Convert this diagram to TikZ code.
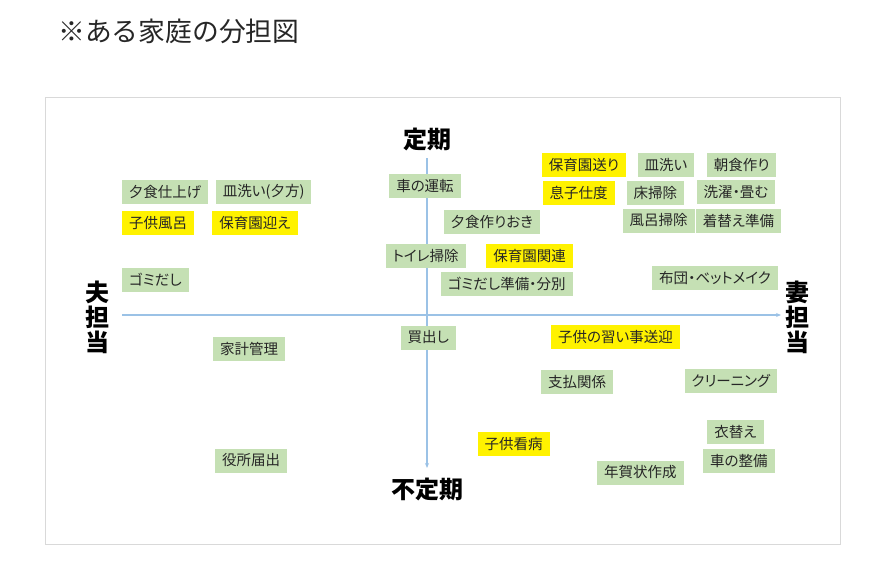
\documentclass[tikz,border=0pt]{standalone}
\usepackage{fontspec}
\usepackage{tikz}
\usetikzlibrary{arrows.meta}
\newfontfamily\jp[RawFeature=+palt]{Noto Sans CJK JP}
\newfontfamily\jptitle{Noto Sans CJK JP}
\definecolor{boxgreen}{RGB}{197,224,180}
\definecolor{axisblue}{RGB}{155,194,230}
\definecolor{framegray}{RGB}{217,217,217}
\definecolor{ink}{RGB}{38,38,38}

\begin{document}
\begin{tikzpicture}[x=1pt, y=-1pt,
	task/.style={fill=boxgreen, text=ink, font=\jp\fontsize{14.5}{16}\selectfont, inner xsep=7pt, inner ysep=0pt, minimum height=24pt},
	kid/.style={task, fill=yellow},
	axislabel/.style={font=\jptitle\bfseries\fontsize{24}{25}\selectfont, text=black, inner sep=0pt},
	axis/.style={draw=axisblue, line width=1.1pt, -{Stealth[length=5pt, width=4pt]}}]
\useasboundingbox (0,0) rectangle (888,573);
\node[font=\jptitle\fontsize{26.8}{28}\selectfont, text=ink, anchor=west, inner sep=0pt] (title) at (58,31) {※ある家庭の分担図};
\draw[framegray, line width=1pt] (45,97) rectangle (840,544);
\coordinate (top) at (427,158);
\coordinate (bottom) at (427,468);
\coordinate (left) at (122,315);
\coordinate (right) at (781,315);
\draw[axis] (top) -- (bottom);
\draw[axis] (left) -- (right);
\node[axislabel] (teiki) at (427,139) {定期};
\node[axislabel] (futeiki) at (427,489) {不定期};
\node[axislabel, align=center] (otto) at (97,317.5) {夫\\担\\当};
\node[axislabel, align=center] (tsuma) at (797,317) {妻\\担\\当};
% regular tasks above the line
\node[task] (yushoku) at (165,192) {夕食仕上げ};
\node[task] (saraYu) at (263.7,192) {皿洗い(夕方)};
\node[kid] (furo) at (158,223) {子供風呂};
\node[kid] (mukae) at (255,223) {保育園迎え};
\node[task] (gomi) at (155.5,279.7) {ゴミだし};
\node[task] (unten) at (425,186) {車の運転};
\node[task] (toire) at (425.7,256) {トイレ掃除};
\node[task] (okiya) at (491.8,222.3) {夕食作りおき};
\node[kid] (kanren) at (529.7,256) {保育園関連};
\node[task] (bunbetsu) at (506.7,283.5) {ゴミだし準備・分別};
\node[kid] (okuri) at (584,165) {保育園送り};
\node[task] (sara) at (666,165) {皿洗い};
\node[task] (choshoku) at (741.7,165) {朝食作り};
\node[kid] (shitaku) at (578.5,193) {息子仕度};
\node[task] (yuka) at (655.3,193) {床掃除};
\node[task] (sentaku) at (736,192) {洗濯・畳む};
\node[task] (furosoji) at (658.7,220.5) {風呂掃除};
\node[task] (kigae) at (738.5,220.5) {着替え準備};
\node[task] (futon) at (715,277.7) {布団・ベットメイク};
% irregular tasks below the line
\node[task] (kakei) at (249,348.7) {家計管理};
\node[task] (kaidashi) at (428.3,337.5) {買出し};
\node[task] (yakusho) at (251,460.5) {役所届出};
\node[kid] (naraigoto) at (615.5,337) {子供の習い事送迎};
\node[task] (shiharai) at (577,382) {支払関係};
\node[task] (cleaning) at (730.8,381.3) {クリーニング};
\node[kid] (kanbyo) at (513.7,443.7) {子供看病};
\node[task] (koromo) at (735.5,431.7) {衣替え};
\node[task] (seibi) at (738.8,460.7) {車の整備};
\node[task] (nenga) at (640.3,472.5) {年賀状作成};
\end{tikzpicture}
\end{document}
